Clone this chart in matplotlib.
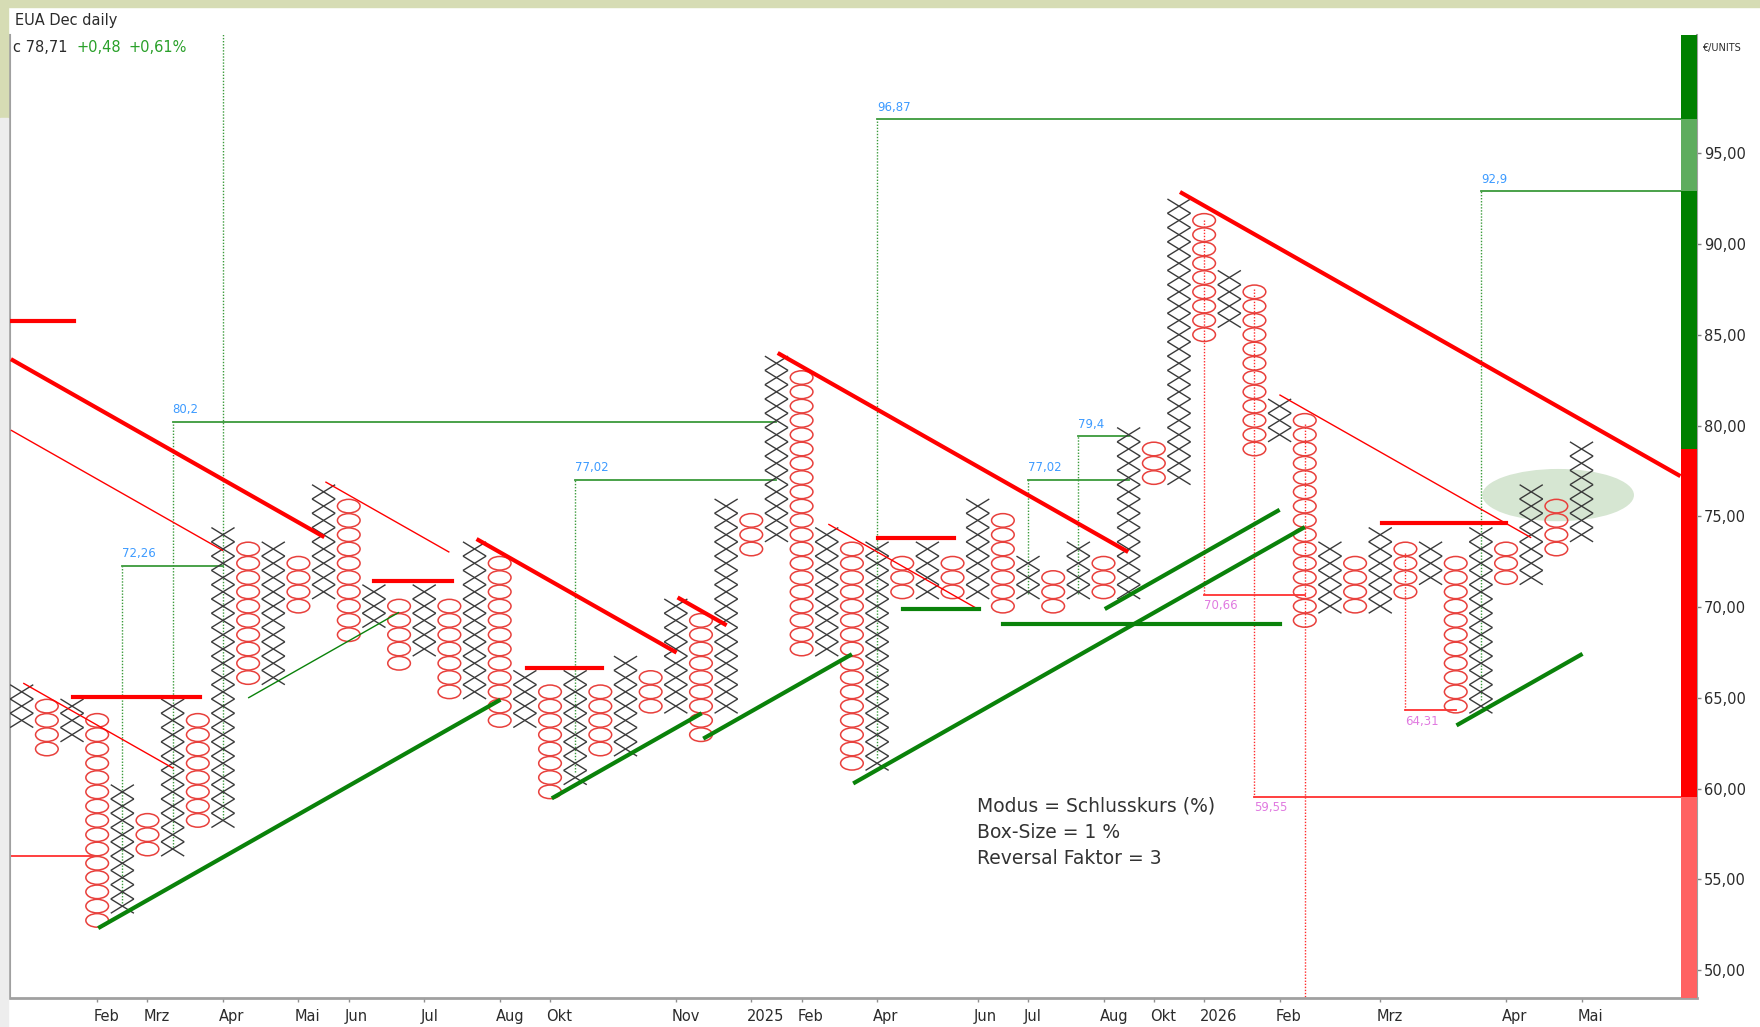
#!/usr/bin/env python3
"""
Point & Figure chart: EUA Dec daily, 1 % box, 3 box reversal.
Writes out.png (1760x1027).
"""

import numpy as np
import matplotlib
matplotlib.use('Agg')
import matplotlib.pyplot as plt
from matplotlib.collections import LineCollection, PatchCollection
from matplotlib.patches import Ellipse, Rectangle
from matplotlib.transforms import ScaledTranslation

# ---------------------------------------------------------------------------
# Data
# ---------------------------------------------------------------------------

LAST_CLOSE = 78.71
BOX = 0.7871            # 1 % of the last close

COL_TYPE = list('XOXOXOXOXOXOXOXOXOXOXOXOXOXOXOXOXOXOXOXOXOXOXOXOXOXOXOXOXOXOXOX')
COL_LOW = [63.4, 61.9, 62.6, 53.0, 53.7, 56.3, 56.8, 57.9, 58.4, 65.8,
           66.5, 69.8, 70.6, 68.2, 68.9, 66.6, 67.4, 65.0, 65.6, 63.4,
           63.9, 60.2, 60.9, 61.8, 62.4, 64.2, 64.8, 63.3, 64.2, 73.0,
           73.7, 67.5, 68.0, 61.1, 61.7, 70.7, 71.1, 70.7, 71.2, 69.8,
           70.7, 69.7, 70.7, 70.5, 71.2, 76.9, 77.4, 84.8, 85.5, 78.5,
           79.2, 69.1, 69.7, 69.8, 70.4, 70.6, 71.3, 64.3, 64.9, 71.4,
           72.0, 73.0, 73.6]
COL_HIGH = [65.1, 64.2, 64.3, 63.5, 59.6, 58.6, 64.2, 63.5, 73.9, 73.0,
            73.1, 72.2, 76.5, 75.4, 70.6, 69.8, 70.7, 69.9, 73.2, 72.1,
            66.0, 65.0, 65.8, 65.0, 66.8, 65.8, 70.0, 69.1, 75.6, 74.6,
            83.6, 82.6, 74.1, 73.0, 73.1, 72.3, 73.1, 72.3, 75.7, 74.7,
            72.3, 71.4, 73.0, 72.3, 79.6, 78.5, 92.3, 91.3, 88.3, 87.5,
            81.1, 80.1, 73.1, 72.2, 73.9, 73.0, 73.1, 72.1, 73.9, 73.0,
            76.3, 75.4, 78.7]

TICK_COLS = [3, 5, 8, 11, 13, 16, 19, 21, 26, 29, 31, 34, 38, 40, 43, 45,
             47, 50, 54, 59, 62]
TICK_LABELS = ['Feb', 'Mrz', 'Apr', 'Mai', 'Jun', 'Jul', 'Aug', 'Okt', 'Nov',
               '2025', 'Feb', 'Apr', 'Jun', 'Jul', 'Aug', 'Okt', '2026',
               'Feb', 'Mrz', 'Apr', 'Mai']
PRICE_TICKS = [50, 55, 60, 65, 70, 75, 80, 85, 90, 95]

# 45 degree trend lines: (start col, start price, end col)
DOWN_THICK = [(-0.43, 83.66, 12.03), (18.08, 73.75, 26.03),
              (26.07, 70.53, 28.02), (30.05, 84.0, 43.98),
              (46.04, 92.87, 65.93)]
DOWN_THIN = [(-0.43, 79.75, 8.01), (0.06, 65.81, 6.03), (12.07, 76.9, 17.0),
             (32.06, 74.57, 38.02), (49.99, 81.7, 60.0)]
UP_THICK = [(3.04, 52.31, 19.03), (21.07, 59.46, 27.03), (27.09, 62.75, 33.0),
            (33.05, 60.28, 51.0), (43.05, 69.89, 50.0), (57.03, 63.48, 62.04)]
UP_THIN = [(9.0, 64.99, 15.0)]

# horizontal resistance / support: (col from, col to, price)
RESIST = [(-0.43, 2.08, 85.76), (2.05, 7.09, 65.05), (14.0, 17.1, 71.41),
          (20.07, 23.05, 66.62), (34.05, 37.05, 73.81), (54.05, 59.0, 74.61)]
SUPPORT = [(35.04, 38.04, 69.89), (39.02, 50.0, 69.06)]

# vertical count targets: (column, target price, line end col, show label)
BULL_TARGETS = [(4, 72.26, 8, True), (6, 80.2, 30, True), (8, 105.0, 8, False),
                (22, 77.02, 30, True), (34, 96.87, 65.95, True),
                (40, 77.02, 44, True), (42, 79.4, 44, True),
                (58, 92.9, 65.95, True)]
BEAR_TARGETS = [(47, 70.66, 51, True), (49, 59.55, 65.95, True),
                (51, 40.0, 51, False), (55, 64.31, 57, True)]
LEFT_TARGET = (-0.43, 3.06, 56.26)

# highlighted zone: centre col, centre price, width (cols), height (price)
ZONE = (61.07, 76.17, 6.03, 2.88)

# ---------------------------------------------------------------------------
# Style
# ---------------------------------------------------------------------------

W, H = 1760, 1027
X_COLOR = '#3a3a3a'
O_COLOR = '#e8403c'
RED = '#ff0000'
GREEN = '#0a820a'
TGT_GREEN = '#3a9a3a'
BLUE_LBL = '#3d9bff'
PINK_LBL = '#e07ae0'
TXT = '#2b2b2b'

X_LEFT, X_RIGHT = -0.465, 66.59
BAR_LEFT = 65.95
Y_BOT, Y_TOP = 48.46, 101.52


def fx(px):
    return px / W


def fy(py):
    return 1 - py / H


def fmt(v):
    return f'{v:g}'.replace('.', ',')


def levels(lo, hi):
    k0 = int(round((lo - LAST_CLOSE) / BOX))
    k1 = int(round((hi - LAST_CLOSE) / BOX))
    return LAST_CLOSE + np.arange(k0, k1 + 1) * BOX


def trend(lines, sign):
    segs = []
    for c0, p0, c1 in lines:
        segs.append([(c0, p0), (c1, p0 + sign * BOX * (c1 - c0))])
    return segs


def main():
    fig = plt.figure(figsize=(W / 100, H / 100), dpi=100)
    fig.patch.set_facecolor('white')

    # window chrome
    fig.patches.append(Rectangle((0, fy(7)), 1, 7 / H, transform=fig.transFigure,
                                 color='#d6dcb4', zorder=0))
    fig.patches.append(Rectangle((0, fy(118)), fx(8), 118 / H,
                                 transform=fig.transFigure, color='#d6dcb4', zorder=0))
    fig.patches.append(Rectangle((0, 0), fx(8), fy(118),
                                 transform=fig.transFigure, color='#ededed', zorder=0))

    ax = fig.add_axes([fx(10), fy(998), fx(1697) - fx(10), fy(35) - fy(998)])
    ax.set_xlim(X_LEFT, X_RIGHT)
    ax.set_ylim(Y_BOT, Y_TOP)
    ax.set_facecolor('white')

    # highlighted zone
    cx, cp, ew, eh = ZONE
    ax.add_patch(Ellipse((cx, cp), ew, eh, color='#d6e6d2', lw=0, zorder=1))

    # colour bar on the right
    bar_w = X_RIGHT - BAR_LEFT
    bar = [(LAST_CLOSE, Y_TOP, '#008000'), (92.9, 96.87, '#5eac5e'),
           (59.55, LAST_CLOSE, '#ff0000'), (Y_BOT, 59.55, '#ff6262')]
    for lo, hi, col in bar:
        ax.add_patch(Rectangle((BAR_LEFT, lo), bar_w, hi - lo, color=col,
                               lw=0, zorder=6))

    # targets
    for c, tgt, end, lbl in BULL_TARGETS:
        base = COL_LOW[c]
        ax.plot([c, c], [base, tgt], color=TGT_GREEN, lw=1.0,
                ls=(0, (1, 1.2)), zorder=2)
        if end > c:
            ax.plot([c, end], [tgt, tgt], color=TGT_GREEN, lw=1.3, zorder=2)
        if lbl:
            ax.annotate(fmt(tgt), (c, tgt), xytext=(0, 4),
                        textcoords='offset points', color=BLUE_LBL,
                        fontsize=8.5, ha='left', va='bottom', zorder=7)
    for c, tgt, end, lbl in BEAR_TARGETS:
        base = COL_HIGH[c]
        ax.plot([c, c], [base, tgt], color='#ff2a2a', lw=1.0,
                ls=(0, (1, 1.2)), zorder=2)
        if end > c:
            ax.plot([c, end], [tgt, tgt], color='#ff3030', lw=1.3, zorder=2)
        if lbl:
            ax.annotate(fmt(tgt), (c, tgt), xytext=(0, -3),
                        textcoords='offset points', color=PINK_LBL,
                        fontsize=8.5, ha='left', va='top', zorder=7)
    c0, c1, p = LEFT_TARGET
    ax.plot([c0, c1], [p, p], color='#ff3030', lw=1.3, zorder=2)

    # X and O columns
    x_segs, o_patches = [], []
    hw, hb = 0.46, BOX / 2
    for i, kind in enumerate(COL_TYPE):
        for lv in levels(COL_LOW[i], COL_HIGH[i]):
            if kind == 'X':
                x_segs.append([(i - hw, lv - hb), (i + hw, lv + hb)])
                x_segs.append([(i - hw, lv + hb), (i + hw, lv - hb)])
            else:
                o_patches.append(Ellipse((i, lv), 0.9, BOX * 0.95))
    ax.add_collection(LineCollection(x_segs, colors=X_COLOR, lw=1.0, zorder=3))
    ax.add_collection(PatchCollection(o_patches, facecolor='none',
                                      edgecolor=O_COLOR, lw=1.1, zorder=3))

    # trend lines
    ax.add_collection(LineCollection(trend(DOWN_THICK, -1), colors=RED, lw=3.0, zorder=4))
    ax.add_collection(LineCollection(trend(DOWN_THIN, -1), colors=RED, lw=1.0, zorder=4))
    ax.add_collection(LineCollection(trend(UP_THICK, 1), colors=GREEN, lw=3.0, zorder=4))
    ax.add_collection(LineCollection(trend(UP_THIN, 1), colors=GREEN, lw=1.0, zorder=4))
    for a, b, p in RESIST:
        ax.plot([a, b], [p, p], color=RED, lw=3.0, zorder=4)
    for a, b, p in SUPPORT:
        ax.plot([a, b], [p, p], color=GREEN, lw=3.0, zorder=4)

    # axes cosmetics
    for side in ('left', 'right', 'bottom'):
        ax.spines[side].set_color('#a0a0a0')
    ax.spines['left'].set_linewidth(1.5)
    ax.spines['right'].set_linewidth(1.5)
    ax.spines['bottom'].set_linewidth(2.0)
    ax.spines['top'].set_visible(False)

    ax.yaxis.tick_right()
    ax.set_yticks(PRICE_TICKS)
    ax.set_yticklabels([f'{v:.2f}'.replace('.', ',') for v in PRICE_TICKS])
    ax.tick_params(axis='y', direction='out', length=3, width=1, color='#808080',
                   labelsize=10.5, labelcolor=TXT, pad=2)
    ax.set_xticks(TICK_COLS)
    ax.set_xticklabels(TICK_LABELS, ha='left')
    ax.tick_params(axis='x', direction='out', length=3, width=1, color='#909090',
                   labelsize=10.5, labelcolor=TXT, pad=5)
    shift = ScaledTranslation(-0.04, 0, fig.dpi_scale_trans)
    for lab in ax.get_xticklabels():
        lab.set_transform(lab.get_transform() + shift)

    # header texts
    fig.text(fx(15), fy(20), 'EUA Dec daily', fontsize=10.5, color=TXT, va='center')
    fig.text(fx(13), fy(48), 'c 78,71', fontsize=10.5, color=TXT, va='center')
    fig.text(fx(76), fy(48), '+0,48', fontsize=10.5, color='#2aa02a', va='center')
    fig.text(fx(129), fy(48), '+0,61%', fontsize=10.5, color='#2aa02a', va='center')
    fig.text(fx(1702), fy(48), '€/UNITS', fontsize=7, color=TXT, va='center')

    info = ['Modus = Schlusskurs (%)', 'Box-Size = 1 %', 'Reversal Faktor = 3']
    for j, line in enumerate(info):
        fig.text(fx(977), fy(806 + 26.3 * j), line, fontsize=13.5, color='#333333',
                 va='center')

    fig.savefig('out.png', dpi=100)
    plt.close(fig)


if __name__ == '__main__':
    main()
